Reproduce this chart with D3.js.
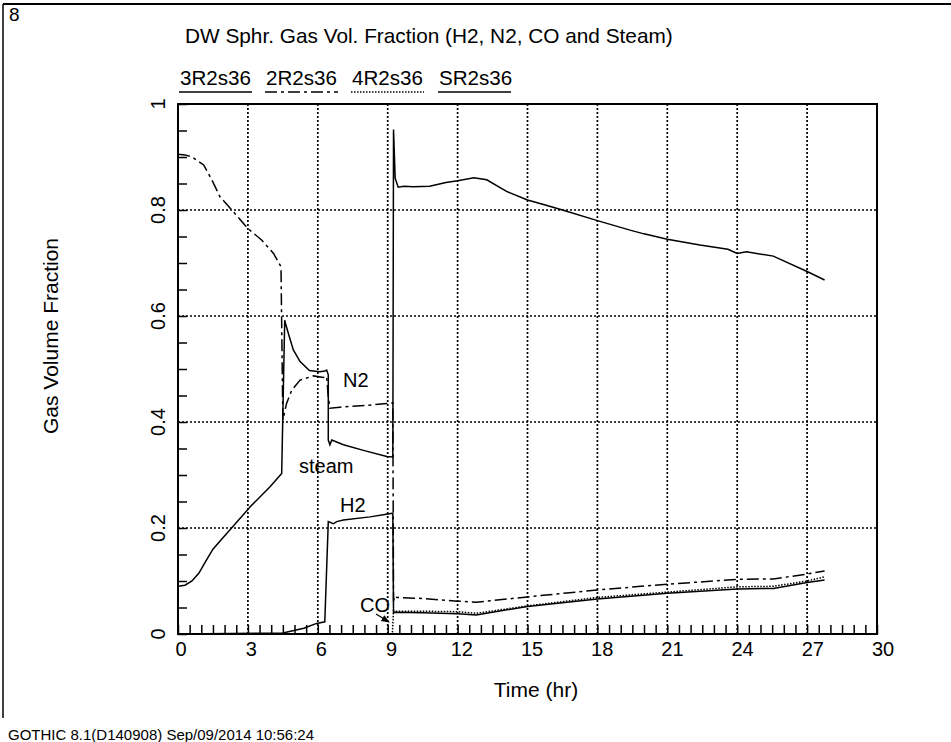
<!DOCTYPE html>
<html>
<head>
<meta charset="utf-8">
<script src="https://cdn.jsdelivr.net/npm/d3@7"></script>
<style>
  body { margin: 0; background: #fff; }
  svg text { font-family: "Liberation Sans", Arial, sans-serif; fill: #000; }
</style>
</head>
<body>
<svg id="chart" width="951" height="742"></svg>
<script>
// series (time in hr, gas volume fraction)
var steamT = [0, 0.3, 0.6, 0.9, 1.2, 1.5, 1.9, 2.3, 3.1, 3.95, 4.45, 4.58, 4.62, 4.75, 4.95, 5.24, 5.64, 6.09, 6.3, 6.38, 6.45, 6.45, 6.52, 6.6, 7.1, 8.0, 8.96, 9.22, 9.25, 9.32, 9.45, 9.7, 10.1, 10.8, 11.5, 12.0, 12.7, 13.25, 14.1, 15.0, 15.8, 16.5, 18.0, 19.4, 20.0, 21.0, 22.4, 23.6, 24.0, 24.4, 25.55, 27.0, 27.75];
var steamV = [0.09, 0.092, 0.1, 0.115, 0.138, 0.16, 0.18, 0.2, 0.24, 0.278, 0.303, 0.592, 0.585, 0.565, 0.536, 0.514, 0.497, 0.495, 0.496, 0.498, 0.489, 0.366, 0.357, 0.366, 0.357, 0.346, 0.335, 0.334, 0.952, 0.86, 0.843, 0.845, 0.844, 0.845, 0.852, 0.855, 0.861, 0.857, 0.835, 0.819, 0.809, 0.8, 0.78, 0.762, 0.755, 0.745, 0.734, 0.726, 0.718, 0.721, 0.713, 0.684, 0.668];

var n2T = [0, 0.3, 0.6, 1.1, 1.45, 1.8, 2.25, 3.0, 3.6, 4.1, 4.42, 4.5, 4.66, 4.88, 5.24, 5.81, 6.24, 6.38, 6.45, 6.52, 6.95, 8.0, 8.96, 9.22, 9.25, 9.3, 9.4, 10.5, 12.0, 12.8, 15.0, 18.0, 21.0, 24.0, 25.55, 27.0, 27.75];
var n2V = [0.905, 0.904, 0.9, 0.885, 0.857, 0.825, 0.803, 0.765, 0.743, 0.718, 0.693, 0.404, 0.435, 0.46, 0.479, 0.487, 0.484, 0.486, 0.448, 0.426, 0.428, 0.431, 0.435, 0.436, 0.062, 0.072, 0.069, 0.067, 0.062, 0.06, 0.07, 0.083, 0.094, 0.103, 0.104, 0.113, 0.119];

var h2T = [0, 4.5, 5.4, 5.95, 6.3, 6.45, 6.67, 6.81, 7.1, 8.24, 9.22, 9.25, 9.3, 10.5, 12.0, 12.8, 15.0, 18.0, 21.0, 24.0, 25.55, 27.0, 27.75];
var h2V = [0, 0.002, 0.011, 0.02, 0.023, 0.212, 0.208, 0.212, 0.215, 0.221, 0.228, 0.04, 0.041, 0.04, 0.038, 0.036, 0.052, 0.066, 0.077, 0.085, 0.086, 0.097, 0.102];

var coT = [0, 9.2, 9.25, 9.35, 10.5, 12.0, 12.8, 15.0, 18.0, 21.0, 24.0, 25.55, 27.0, 27.75];
var coV = [0, 0, 0.044, 0.043, 0.043, 0.042, 0.039, 0.053, 0.069, 0.079, 0.089, 0.09, 0.1, 0.108];

var legendNames = ["3R2s36", "2R2s36", "4R2s36", "SR2s36"];
var xTicks = [0, 3, 6, 9, 12, 15, 18, 21, 24, 27, 30];
var yTicks = [0, 0.2, 0.4, 0.6, 0.8, 1];

var svg = d3.select("#chart");
svg.append("rect").attr("width", 951).attr("height", 742).attr("fill", "#fff");

var x = d3.scaleLinear().domain([0, 30]).range([178, 877]);
var y = d3.scaleLinear().domain([0, 1]).range([634, 104]);

// page frame
svg.append("line").attr("x1", 3).attr("x2", 951).attr("y1", 4).attr("y2", 4)
  .attr("stroke", "#000").attr("stroke-width", 2);
svg.append("line").attr("x1", 3).attr("x2", 3).attr("y1", 4).attr("y2", 718)
  .attr("stroke", "#000").attr("stroke-width", 1.5);
svg.append("text").attr("x", 9).attr("y", 21).style("font-size", "19px").text("8");

// grid
var grid = svg.append("g").attr("stroke", "#000").attr("stroke-width", 1.7).attr("stroke-dasharray", "2,2");
grid.selectAll(".gx").data(xTicks.slice(1, -1)).enter().append("line")
  .attr("x1", d => x(d)).attr("x2", d => x(d)).attr("y1", y(1)).attr("y2", y(0));
grid.selectAll(".gy").data(yTicks.slice(1, -1)).enter().append("line")
  .attr("x1", x(0)).attr("x2", x(30)).attr("y1", d => y(d)).attr("y2", d => y(d));

// axes: inside minor ticks
var xAxis = d3.axisBottom(x).ticks(50).tickSizeInner(-9).tickSizeOuter(0).tickFormat("");
svg.append("g").attr("transform", `translate(0,${y(0)})`).call(xAxis)
  .call(g => g.select(".domain").remove())
  .selectAll("line").attr("stroke-width", 1.5);
var yAxis = d3.axisLeft(y).ticks(25).tickSizeInner(-9).tickSizeOuter(0).tickFormat("");
svg.append("g").attr("transform", `translate(${x(0)},0)`).call(yAxis)
  .call(g => g.select(".domain").remove())
  .selectAll("line").attr("stroke-width", 1.5);

svg.append("rect").attr("x", x(0)).attr("y", y(1)).attr("width", x(30) - x(0)).attr("height", y(0) - y(1))
  .attr("fill", "none").attr("stroke", "#000").attr("stroke-width", 2);

// tick labels
svg.selectAll(".xl").data(xTicks).enter().append("text")
  .attr("x", d => x(d) + 3 + d * 0.1).attr("y", 656).attr("text-anchor", "middle")
  .style("font-size", "20px").text(d => d);
svg.selectAll(".yl").data(yTicks).enter().append("text")
  .attr("transform", d => `translate(165,${y(d)}) rotate(-90)`)
  .attr("text-anchor", "middle").style("font-size", "20px").text(d => d);

svg.append("text").attr("x", 536).attr("y", 697).attr("text-anchor", "middle")
  .style("font-size", "21px").text("Time (hr)");
svg.append("text").attr("transform", "translate(58,336) rotate(-90)").attr("text-anchor", "middle")
  .style("font-size", "21px").text("Gas Volume Fraction");

svg.append("text").attr("x", 185).attr("y", 43).style("font-size", "20.8px")
  .text("DW Sphr. Gas Vol. Fraction (H2, N2, CO and Steam)");

// series
var styles = ["none", "12,4,3,4", "1.5,1.5", "none"];
var series = [
  {t: h2T, v: h2V, dash: styles[0]},
  {t: n2T, v: n2V, dash: styles[1]},
  {t: coT, v: coV, dash: styles[2]},
  {t: steamT, v: steamV, dash: styles[3]}
];
var line = d3.line().x(d => x(d[0])).y(d => y(d[1]));
svg.selectAll(".series").data(series).enter().append("path")
  .attr("fill", "none").attr("stroke", "#000").attr("stroke-width", 1.5)
  .attr("stroke-dasharray", d => d.dash)
  .attr("d", d => line(d.t.map((t, i) => [t, d.v[i]])));

// legend
var legX = [180, 266, 352, 439];
var leg = svg.selectAll(".leg").data(legendNames).enter().append("g");
leg.append("text").attr("x", (d, i) => legX[i]).attr("y", 85).style("font-size", "20.6px").text(d => d);
leg.append("line").attr("x1", (d, i) => legX[i] - 1).attr("x2", (d, i) => legX[i] + 72)
  .attr("y1", 92).attr("y2", 92).attr("stroke", "#000").attr("stroke-width", 1.5)
  .attr("stroke-dasharray", (d, i) => styles[i]);

// curve annotations
var notes = [["N2", 343, 387], ["steam", 299, 473], ["H2", 340, 512], ["CO", 360, 612]];
svg.selectAll(".note").data(notes).enter().append("text")
  .attr("x", d => d[1]).attr("y", d => d[2]).style("font-size", "20px").text(d => d[0]);
svg.append("defs").append("marker").attr("id", "ah").attr("viewBox", "0 0 10 10")
  .attr("refX", 9).attr("refY", 5).attr("markerWidth", 7).attr("markerHeight", 7).attr("orient", "auto")
  .append("path").attr("d", "M0,1L10,5L0,9z").attr("fill", "#000");
svg.append("line").attr("x1", 376).attr("y1", 614).attr("x2", 389).attr("y2", 622)
  .attr("stroke", "#000").attr("stroke-width", 1.2).attr("marker-end", "url(#ah)");

svg.append("text").attr("x", 8).attr("y", 740).style("font-size", "15px")
  .text("GOTHIC 8.1(D140908) Sep/09/2014 10:56:24");
</script>
</body>
</html>
